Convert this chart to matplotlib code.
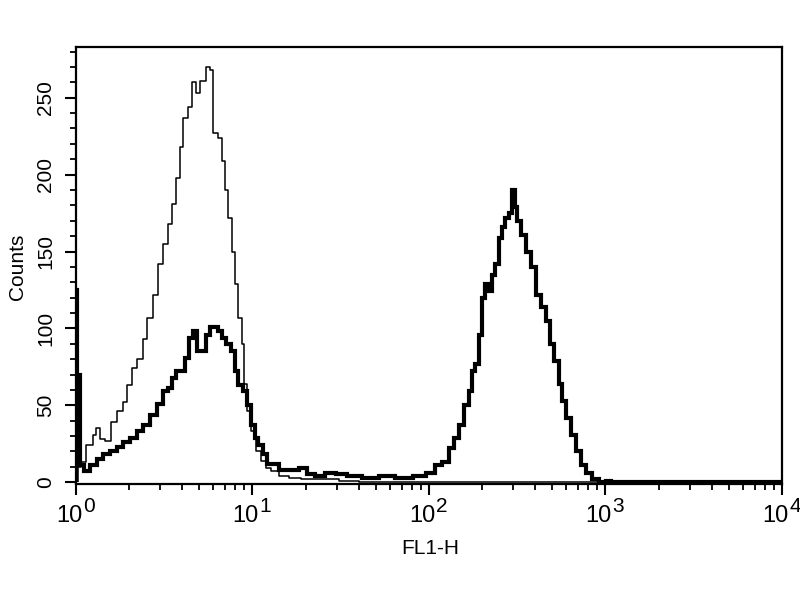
import numpy as np
import matplotlib
matplotlib.use('Agg')
import matplotlib.pyplot as plt
from matplotlib.ticker import MultipleLocator, LogLocator, NullFormatter

# FL1-H channel (1024 scale, 4 decades) and counts
thick_ch = [0, 4, 7, 15, 25, 35, 44, 54, 64, 73, 83, 93, 102, 112, 122, 129,
            137, 141, 148, 156, 160, 167, 173, 177, 185, 192, 196, 203, 209,
            214, 221, 228, 232, 238, 246, 250, 257, 262, 267, 275, 279, 286,
            301, 315, 330, 340, 354, 369, 384, 402, 427, 450, 475, 500, 514,
            526, 536, 545, 552, 559, 567, 572, 577, 581, 587, 591, 596, 601,
            606, 610, 616, 620, 625, 630, 635, 638, 642, 649, 657, 664, 671,
            678, 686, 690, 697, 703, 707, 715, 722, 729, 736, 744, 754, 763,
            773, 780, 1023]
thick_counts = [125, 70, 11, 7, 11, 15, 18, 20, 23, 26, 29, 33, 37, 44, 51, 59,
                61, 68, 72, 72, 81, 94, 98, 85, 85, 96, 101, 101, 98,
                94, 90, 85, 72, 63, 59, 50, 37, 29, 24, 18, 12, 12,
                8, 8, 9, 5, 4, 6, 5, 4, 3, 4, 3, 4, 6,
                11, 13, 22, 29, 37, 50, 59, 72, 77, 96, 120, 129, 124,
                135, 142, 159, 166, 172, 175, 190, 179, 170, 161, 150, 140, 122,
                114, 105, 90, 79, 64, 53, 42, 31, 20, 11, 6, 2, 0,
                1, 0, 0]

thin_ch = [0, 4, 10, 20, 28, 31, 39, 46, 54, 64, 71, 78, 83, 93, 100, 107,
           115, 122, 129, 137, 141, 148, 153, 158, 166, 170, 177, 184, 192,
           196, 202, 209, 214, 218, 224, 228, 232, 238, 243, 245, 250, 257,
           264, 272, 279, 286, 301, 315, 337, 366, 395, 424, 1023]
thin_counts = [9, 10, 13, 24, 31, 35, 28, 27, 39, 46, 52, 63, 74, 80, 93, 107,
               122, 142, 155, 168, 181, 198, 218, 237, 244, 260, 253, 261, 270,
               268, 227, 224, 209, 190, 172, 150, 129, 107, 90, 64, 46, 33,
               20, 14, 9, 7, 4, 3, 2, 2, 1, 0, 0]

y_ticks = [0, 50, 100, 150, 200, 250]
decades = [0, 1, 2, 3, 4]

narrow = ['Liberation Sans Narrow', 'Liberation Sans', 'DejaVu Sans']
plain = ['Liberation Sans', 'DejaVu Sans']

thick_x = 10 ** (np.array(thick_ch) / 256.0)
thin_x = 10 ** (np.array(thin_ch) / 256.0)

fig = plt.figure(figsize=(8, 6), dpi=100)
ax = fig.add_axes([0.095, 0.1933, 0.8825, 0.7284])

ax.plot(thin_x, thin_counts, drawstyle='steps-mid', color='black', lw=1.1)
ax.plot(thick_x, thick_counts, drawstyle='steps-mid', color='black', lw=3.0,
        solid_joinstyle='miter')
# channel-0 pile-up bar at the left edge
ax.plot([thick_x[0], thick_x[0]], [0, thick_counts[0]], color='black', lw=4,
        solid_capstyle='butt')

ax.set_xscale('log')
ax.set_xlim(1, 1e4)
ax.set_ylim(-1.2, 283)

for s in ax.spines.values():
    s.set_linewidth(1.6)

ax.xaxis.set_major_locator(LogLocator(base=10, numticks=10))
ax.xaxis.set_minor_locator(LogLocator(base=10, subs=np.arange(2, 10), numticks=20))
ax.xaxis.set_major_formatter(NullFormatter())
ax.xaxis.set_minor_formatter(NullFormatter())
ax.yaxis.set_major_locator(MultipleLocator(50))
ax.yaxis.set_minor_locator(MultipleLocator(10))
ax.set_yticks(y_ticks)
ax.set_yticklabels([str(v) for v in y_ticks], rotation=90, va='center',
                   family=narrow, fontsize=15)
ax.tick_params(which='major', direction='out', length=8, width=1.5, pad=7)
ax.tick_params(which='minor', direction='out', length=4.5, width=1.3)
ax.tick_params(top=False, right=False)

# x tick labels: "10" with a full-size exponent
for k in decades:
    ax.annotate('10', xy=(10 ** k, 0), xycoords=('data', 'axes fraction'),
                xytext=(4.5, -15), textcoords='offset points',
                ha='right', va='top', family=narrow, fontsize=17)
    ax.annotate(str(k), xy=(10 ** k, 0), xycoords=('data', 'axes fraction'),
                xytext=(5.2, -9.5), textcoords='offset points',
                ha='left', va='top', family=narrow, fontsize=15)

fig.text(0.5375, 0.086, 'FL1-H', ha='center', va='center', family=plain,
         fontsize=15)
fig.text(0.022, 0.555, 'Counts', ha='center', va='center', rotation=90,
         family=plain, fontsize=15)

fig.savefig('out.png', dpi=100)
plt.close(fig)
